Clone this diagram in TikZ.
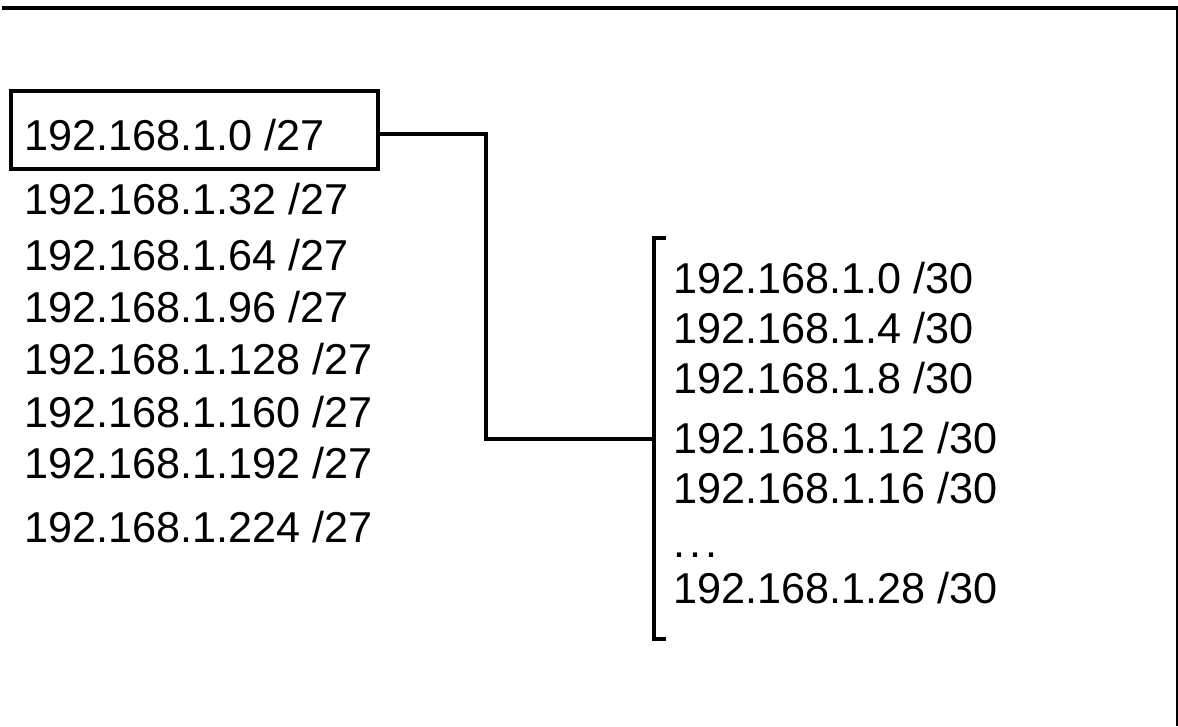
\documentclass[tikz,border=0pt]{standalone}
\usepackage{fontspec}
\setmainfont{Liberation Sans}
\begin{document}
\begin{tikzpicture}[x=0.75pt,y=-0.75pt,
  lbl/.style={anchor=base west,inner sep=0pt,font=\fontsize{32.4}{38}\selectfont},
  boxstyle/.style={draw,line width=2.6pt,minimum width=275.25pt,minimum height=58.5pt,inner sep=0pt},
  wire/.style={line width=2.5pt,line join=miter,line cap=butt},
  frame/.style={line cap=butt}]
\useasboundingbox (0,0) rectangle (1178,726);
% frame lines
\coordinate (tl) at (2,8);
\coordinate (tr) at (1178,8);
\coordinate (rt) at (1177,7);
\coordinate (rb) at (1177,726);
\draw[frame,line width=2.8pt] (tl) -- (tr);
\draw[frame,line width=1.4pt] (rt) -- (rb);
% box
\node[boxstyle] (box) at (194.5,130) {};
% left column
\node[lbl] (l1) at (24,150) {192.168.1.0 /27};
\node[lbl] (l2) at (24,214) {192.168.1.32 /27};
\node[lbl] (l3) at (24,270) {192.168.1.64 /27};
\node[lbl] (l4) at (24,322) {192.168.1.96 /27};
\node[lbl] (l5) at (24,374) {192.168.1.128 /27};
\node[lbl] (l6) at (24,427) {192.168.1.160 /27};
\node[lbl] (l7) at (24,478) {192.168.1.192 /27};
\node[lbl] (l8) at (24,542) {192.168.1.224 /27};
% right column
\node[lbl] (r1) at (673,293) {192.168.1.0 /30};
\node[lbl] (r2) at (673,343) {192.168.1.4 /30};
\node[lbl] (r3) at (673,393) {192.168.1.8 /30};
\node[lbl] (r4) at (673,453) {192.168.1.12 /30};
\node[lbl] (r5) at (673,503) {192.168.1.16 /30};
\node[lbl] (r6) at (673,557) {.\kern0.09em.\kern0.09em.};
\node[lbl] (r7) at (673,603) {192.168.1.28 /30};
% bracket
\coordinate (bt) at (666,238);
\coordinate (bb) at (666,639);
\coordinate (bk) at (654,439);
\draw[wire] (bt) -- (654,238) -- (654,639) -- (bb);
% connector
\coordinate (c1) at (486,439);
\draw[wire] ([yshift=-3pt]box.east) -| (c1) -- (bk);
\end{tikzpicture}
\end{document}
